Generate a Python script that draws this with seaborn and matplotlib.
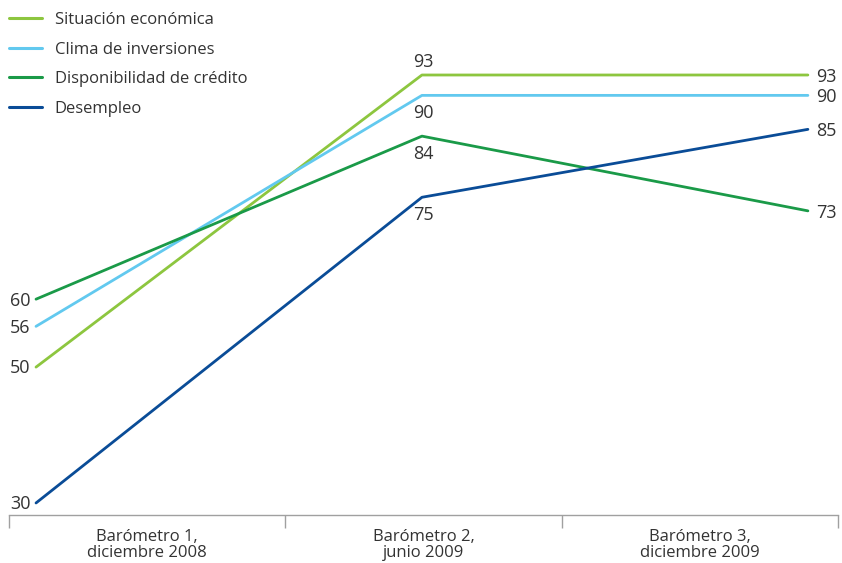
import matplotlib
matplotlib.use("Agg")
import matplotlib.pyplot as plt
import seaborn as sns
import pandas as pd
from matplotlib.ticker import FixedLocator, NullFormatter, FixedFormatter

# ---- data ----
categories = ["Barómetro 1,\ndiciembre 2008", "Barómetro 2,\njunio 2009", "Barómetro 3,\ndiciembre 2009"]
series = ["Situación económica", "Clima de inversiones", "Disponibilidad de crédito", "Desempleo"]
situacion = [50, 93, 93]
clima = [56, 90, 90]
credito = [60, 84, 73]
desempleo = [30, 75, 85]
values = [situacion, clima, credito, desempleo]

# ---- styles ----
colors = {"Situación económica": "#8dc63f",
          "Clima de inversiones": "#62c9ef",
          "Disponibilidad de crédito": "#1a9a48",
          "Desempleo": "#0a4c97"}
mid_label_above = {"Situación económica"}
text_color = "#333333"
axis_color = "#a0a0a0"

rows = []
for s, vals in zip(series, values):
    for i, v in enumerate(vals):
        rows.append({"serie": s, "pos": i, "value": v})
df = pd.DataFrame(rows)

sns.set_theme(style="white")
plt.rcParams["font.family"] = ["Open Sans", "DejaVu Sans"]

W, H = 842, 563
fig = plt.figure(figsize=(W / 100, H / 100), dpi=100)
ax_rect = [9 / W, (H - 515) / H, 829 / W, 515 / H]
ax = fig.add_axes(ax_rect)
ax.patch.set_alpha(0)

sns.lineplot(data=df, x="pos", y="value", hue="serie", hue_order=series,
             palette=colors, linewidth=2.0, ax=ax, sort=False, legend=True)

ax.set_xlim(-0.07, 2.078)
ax.set_ylim(28.23, 104.04)
for sp in ax.spines.values():
    sp.set_visible(False)
ax.set_xticks([])
ax.set_yticks([])
ax.set_xlabel("")
ax.set_ylabel("")

# legend
handles, labels = ax.get_legend_handles_labels()
leg = ax.legend(handles, labels, loc="upper left", bbox_to_anchor=(9 / W, 1 - 12 / H),
                bbox_transform=fig.transFigure, frameon=False, fontsize=12,
                handlelength=2.0, handletextpad=0.75, labelspacing=0.82,
                borderpad=0, borderaxespad=0)
for t in leg.get_texts():
    t.set_color(text_color)
for l in leg.get_lines():
    l.set_linewidth(2.2)

# value labels
fs = 13
n = len(categories)
for s, vals in zip(series, values):
    ax.annotate(str(vals[0]), xy=(0, vals[0]), xytext=(-4, -1), textcoords="offset points",
                ha="right", va="center", fontsize=fs, color=text_color)
    ax.annotate(str(vals[-1]), xy=(n - 1, vals[-1]), xytext=(6, -1.5), textcoords="offset points",
                ha="left", va="center", fontsize=fs, color=text_color)
    dy = 9 if s in mid_label_above else -13
    ax.annotate(str(vals[1]), xy=(1, vals[1]), xytext=(1, dy), textcoords="offset points",
                ha="center", va="center", fontsize=fs, color=text_color)

# category axis
ax2 = fig.add_axes(ax_rect)
ax2.patch.set_alpha(0)
ax2.set_xlim(0, n)
ax2.set_ylim(0, 1)
for k in ["top", "left", "right"]:
    ax2.spines[k].set_visible(False)
ax2.spines["bottom"].set_visible(True)
ax2.spines["bottom"].set_color(axis_color)
ax2.spines["bottom"].set_linewidth(1.0)
ax2.set_yticks([])
ax2.xaxis.set_major_locator(FixedLocator(list(range(n + 1))))
ax2.xaxis.set_major_formatter(NullFormatter())
ax2.xaxis.set_minor_locator(FixedLocator([i + 0.5 for i in range(n)]))
ax2.xaxis.set_minor_formatter(FixedFormatter(categories))
ax2.tick_params(axis="x", which="both", bottom=True)
ax2.tick_params(axis="x", which="major", direction="out", length=9.5, width=1.0, color=axis_color)
ax2.tick_params(axis="x", which="minor", length=0, pad=10, labelsize=12, labelcolor=text_color)
for t in ax2.xaxis.get_minorticklabels():
    t.set_linespacing(1.0)
for t in ax2.xaxis.get_majorticklines():
    t.set_clip_on(False)

fig.savefig("out.png", dpi=100)
